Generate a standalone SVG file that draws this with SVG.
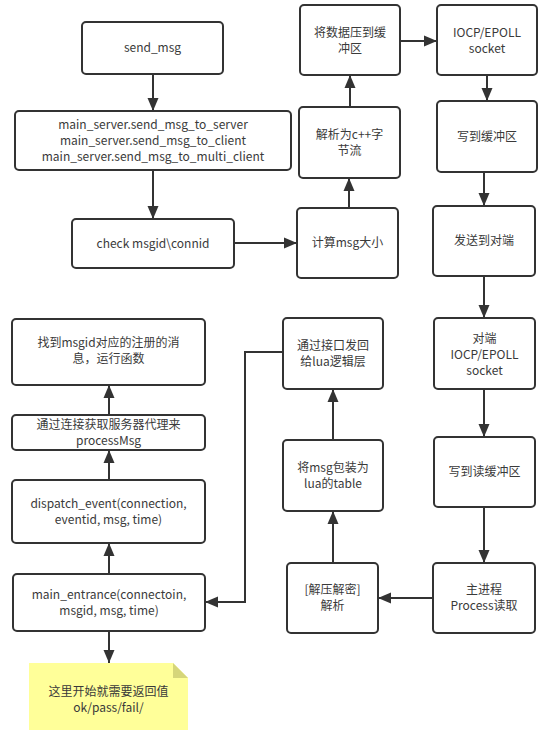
<svg xmlns="http://www.w3.org/2000/svg" width="550" height="730" viewBox="0 0 550 730">
<style>
.box{fill:#fff;stroke:#333;stroke-width:2}
.t{font-family:"Microsoft YaHei","Noto Sans CJK SC","Noto Sans",sans-serif;font-size:12px;fill:#3a3a3a;text-anchor:middle}
.c{fill:none;stroke:#333;stroke-width:2}
</style>
<defs>
<marker id="ah" markerUnits="userSpaceOnUse" markerWidth="14" markerHeight="14" viewBox="0 0 14 14" refX="13" refY="7" orient="auto">
<path d="M0,1.5 L13,7 L0,12.5 z" fill="#333"/>
</marker>
</defs>
<rect width="550" height="730" fill="#fff"/>
<g id="connectors">
<line class="c" x1="153" y1="74" x2="153" y2="111" marker-end="url(#ah)"/>
<line class="c" x1="153" y1="170" x2="153" y2="219" marker-end="url(#ah)"/>
<line class="c" x1="234" y1="243" x2="297" y2="243" marker-end="url(#ah)"/>
<line class="c" x1="349" y1="208" x2="349" y2="178" marker-end="url(#ah)"/>
<line class="c" x1="350" y1="107" x2="350" y2="75" marker-end="url(#ah)"/>
<line class="c" x1="400" y1="41" x2="437" y2="41" marker-end="url(#ah)"/>
<line class="c" x1="487" y1="75" x2="487" y2="101" marker-end="url(#ah)"/>
<line class="c" x1="484" y1="172" x2="484" y2="206" marker-end="url(#ah)"/>
<line class="c" x1="484" y1="276" x2="484" y2="318" marker-end="url(#ah)"/>
<line class="c" x1="484" y1="389" x2="484" y2="437" marker-end="url(#ah)"/>
<line class="c" x1="484" y1="507" x2="484" y2="563" marker-end="url(#ah)"/>
<line class="c" x1="433" y1="598" x2="378" y2="598" marker-end="url(#ah)"/>
<line class="c" x1="333" y1="563" x2="333" y2="511" marker-end="url(#ah)"/>
<line class="c" x1="333" y1="440" x2="333" y2="389" marker-end="url(#ah)"/>
<path class="c" d="M283,352 L245,352 L245,602 L205,602" marker-end="url(#ah)"/>
<line class="c" x1="109" y1="574" x2="109" y2="543" marker-end="url(#ah)"/>
<line class="c" x1="109" y1="480" x2="109" y2="450" marker-end="url(#ah)"/>
<line class="c" x1="109" y1="415" x2="109" y2="385" marker-end="url(#ah)"/>
<line class="c" x1="109" y1="631" x2="109" y2="663" marker-end="url(#ah)"/>
</g>
<g id="send_msg"><rect class="box" x="82" y="22" width="141" height="52" rx="4"/><text class="t" x="152.5" y="52">send_msg</text></g>
<g id="main_server"><rect class="box" x="15" y="111" width="276" height="59" rx="4"/>
<text class="t" x="153" y="129">main_server.send_msg_to_server</text>
<text class="t" x="153" y="145">main_server.send_msg_to_client</text>
<text class="t" x="153" y="161">main_server.send_msg_to_multi_client</text></g>
<g id="check"><rect class="box" x="72" y="219" width="162" height="49" rx="4"/><text class="t" x="153" y="247.5">check msgid\connid</text></g>
<g id="calc"><rect class="box" x="297" y="208" width="101" height="70" rx="4"/><text class="t" x="347.5" y="247">计算msg大小</text></g>
<g id="parse_cpp"><rect class="box" x="299" y="107" width="101" height="71" rx="4"/><text class="t" x="349.5" y="139">解析为c++字</text><text class="t" x="349.5" y="155">节流</text></g>
<g id="push_buf"><rect class="box" x="300" y="5" width="100" height="70" rx="4"/><text class="t" x="350" y="37">将数据压到缓</text><text class="t" x="350" y="53">冲区</text></g>
<g id="iocp"><rect class="box" x="437" y="5" width="100" height="70" rx="4"/><text class="t" x="487" y="37">IOCP/EPOLL</text><text class="t" x="487" y="53">socket</text></g>
<g id="write_buf"><rect class="box" x="437" y="101" width="100" height="71" rx="4"/><text class="t" x="487" y="141">写到缓冲区</text></g>
<g id="send_peer"><rect class="box" x="433" y="206" width="102" height="70" rx="4"/><text class="t" x="484" y="245">发送到对端</text></g>
<g id="peer_iocp"><rect class="box" x="434" y="318" width="101" height="71" rx="4"/><text class="t" x="484.5" y="343">对端</text><text class="t" x="484.5" y="359">IOCP/EPOLL</text><text class="t" x="484.5" y="375">socket</text></g>
<g id="write_read_buf"><rect class="box" x="434" y="437" width="101" height="70" rx="4"/><text class="t" x="484.5" y="476">写到读缓冲区</text></g>
<g id="main_proc"><rect class="box" x="433" y="563" width="102" height="70" rx="4"/><text class="t" x="484" y="594">主进程</text><text class="t" x="484" y="610">Process读取</text></g>
<g id="decode"><rect class="box" x="287" y="563" width="91" height="70" rx="4"/><text class="t" x="332.5" y="594">[解压解密]</text><text class="t" x="332.5" y="610">解析</text></g>
<g id="wrap_lua"><rect class="box" x="283" y="440" width="100" height="71" rx="4"/><text class="t" x="333" y="472">将msg包装为</text><text class="t" x="333" y="488">lua的table</text></g>
<g id="send_back"><rect class="box" x="283" y="318" width="100" height="71" rx="4"/><text class="t" x="333" y="350">通过接口发回</text><text class="t" x="333" y="366">给lua逻辑层</text></g>
<g id="find_msgid"><rect class="box" x="12" y="319" width="193" height="66" rx="4"/><text class="t" x="108.5" y="347">找到msgid对应的注册的消</text><text class="t" x="108.5" y="363">息，运行函数</text></g>
<g id="get_proxy"><rect class="box" x="12" y="415" width="193" height="35" rx="4"/><text class="t" x="108.5" y="429">通过连接获取服务器代理来</text><text class="t" x="108.5" y="445">processMsg</text></g>
<g id="dispatch"><rect class="box" x="12" y="480" width="193" height="63" rx="4"/><text class="t" x="108.5" y="508">dispatch_event(connection,</text><text class="t" x="108.5" y="524">eventid, msg, time)</text></g>
<g id="main_entrance"><rect class="box" x="13" y="574" width="192" height="57" rx="4"/><text class="t" x="109" y="599">main_entrance(connectoin,</text><text class="t" x="109" y="615">msgid, msg, time)</text></g>
<g id="note"><path d="M29,663 L173,663 L188,678 L188,730 L29,730 z" fill="#ffff99" stroke="none"/><path d="M173,663 L173,678 L188,678 z" fill="#d6d67a"/>
<text class="t" x="108.5" y="696">这里开始就需要返回值</text><text class="t" x="108.5" y="712">ok/pass/fail/</text></g>
</svg>
